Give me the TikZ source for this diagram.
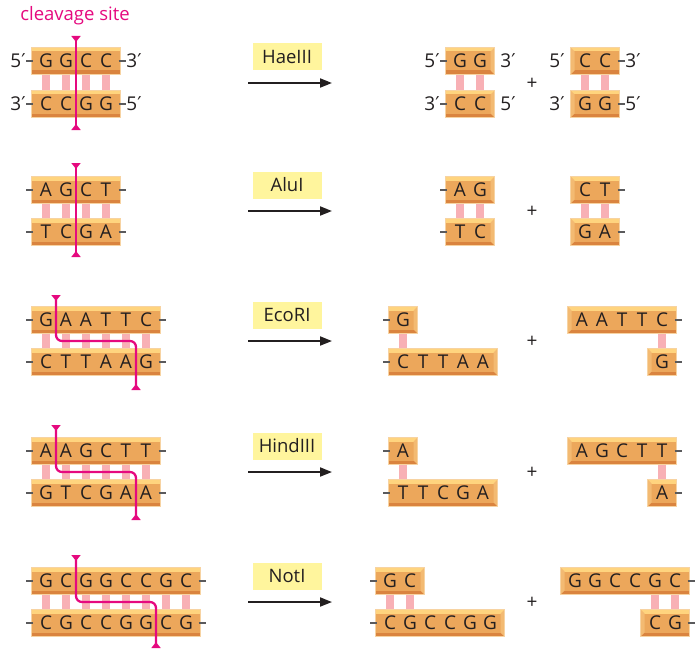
\documentclass[tikz,border=0pt]{standalone}
\usepackage{fontspec}
\setmainfont{Open Sans}
\newfontfamily\primefont{DejaVu Sans}
\usetikzlibrary{arrows.meta}
\definecolor{BarMid}{HTML}{ECA75B}
\definecolor{BarTop}{HTML}{FFD47E}
\definecolor{BarBot}{HTML}{DA843F}
\definecolor{BarSide}{HTML}{F3BA72}
\definecolor{BarRim}{HTML}{F7D3A2}
\definecolor{PairPink}{HTML}{F8B0B5}
\definecolor{CutPink}{HTML}{E5097F}
\definecolor{LabelYellow}{HTML}{FFF59D}
\definecolor{Ink}{HTML}{231F20}
\definecolor{TickGrey}{HTML}{5A5A5C}

% stripes of a strand bar, with a bevelled end where it was cut (l or r)
\newcommand{\barpaint}[1]{%
  \fill[BarTop] (path picture bounding box.north west) rectangle ([yshift=-4pt]path picture bounding box.north east);
  \fill[BarBot] ([yshift=4pt]path picture bounding box.south west) rectangle (path picture bounding box.south east);
  \if#1r\fill[BarSide] (path picture bounding box.north east) -- (path picture bounding box.south east)
    -- ([shift={(-4pt,4pt)}]path picture bounding box.south east) -- ([shift={(-4pt,-4pt)}]path picture bounding box.north east) -- cycle;\fi
  \if#1l\fill[BarSide] (path picture bounding box.north west) -- (path picture bounding box.south west)
    -- ([shift={(4pt,4pt)}]path picture bounding box.south west) -- ([shift={(4pt,-4pt)}]path picture bounding box.north west) -- cycle;\fi
}
% [bevel]{name}{x of first base}{y}{number of bases}{bases}
\newcommand{\dnastrand}[6][n]{%
  \node[bar=#1,minimum width={(#5-1)*20pt+29pt}] (#2) at ({#3+(#5-1)*10},#4) {};
  \foreach \b [count=\i] in {#6} \node[base] (#2\i) at ({#3+20*(\i-1)},#4) {\b};
}
\newcommand{\primed}[1]{#1{\primefont ′}}

\begin{document}
\begin{tikzpicture}[x=1pt,y=-1pt,
  bar/.style={rectangle,inner sep=0pt,minimum height=27pt,fill=BarMid,draw=BarRim,line width=.4pt,
    path picture={\barpaint{#1}}},
  bar/.default=n,
  base/.style={inner sep=0pt,minimum height=27pt,minimum width=12pt,text=Ink,font=\fontsize{19}{21}\selectfont},
  prime/.style={inner sep=0pt,text=Ink,font=\fontsize{19}{21}\selectfont},
  rung/.style={PairPink,line width=8pt},
  tick/.style={TickGrey,line width=1.3pt},
  cut/.style={CutPink,line width=2.3pt,rounded corners=6pt,
    {Triangle[reversed,length=6pt,width=9pt]}-{Triangle[reversed,length=6pt,width=9pt]}},
  enzyme/.style={fill=LabelYellow,minimum width=69pt,minimum height=27pt,inner sep=0pt,text=Ink,
    font=\fontsize{18.5}{21}\selectfont},
  react/.style={Ink,line width=1.8pt,-{Triangle[length=12pt,width=9pt]}},
  plus/.style={text=Ink,font=\fontsize{19}{21}\selectfont}]
\useasboundingbox (0,0) rectangle (695,650);

\node[text=CutPink,font=\fontsize{18.5}{21}\selectfont] (site) at (75,16) {cleavage site};

% HaeIII
\dnastrand{haeT}{46}{61}{4}{G,G,C,C}
\dnastrand{haeB}{46}{104}{4}{C,C,G,G}
\dnastrand[r]{haeLT}{460}{61}{2}{G,G}
\dnastrand[r]{haeLB}{460}{104}{2}{C,C}
\dnastrand[l]{haeRT}{585}{61}{2}{C,C}
\dnastrand[l]{haeRB}{585}{104}{2}{G,G}
% AluI
\dnastrand{aluT}{46}{190}{4}{A,G,C,T}
\dnastrand{aluB}{46}{232}{4}{T,C,G,A}
\dnastrand[r]{aluLT}{460}{190}{2}{A,G}
\dnastrand[r]{aluLB}{460}{232}{2}{T,C}
\dnastrand[l]{aluRT}{585}{190}{2}{C,T}
\dnastrand[l]{aluRB}{585}{232}{2}{G,A}
% EcoRI
\dnastrand{ecoT}{46}{320}{6}{G,A,A,T,T,C}
\dnastrand{ecoB}{46}{362}{6}{C,T,T,A,A,G}
\dnastrand[r]{ecoLT}{403}{320}{1}{G}
\dnastrand[r]{ecoLB}{403}{362}{5}{C,T,T,A,A}
\dnastrand[l]{ecoRT}{582}{320}{5}{A,A,T,T,C}
\dnastrand[l]{ecoRB}{662}{362}{1}{G}
% HindIII
\dnastrand{hindT}{46}{451}{6}{A,A,G,C,T,T}
\dnastrand{hindB}{46}{493}{6}{G,T,C,G,A,A}
\dnastrand[r]{hindLT}{403}{451}{1}{A}
\dnastrand[r]{hindLB}{403}{493}{5}{T,T,C,G,A}
\dnastrand[l]{hindRT}{582}{451}{5}{A,G,C,T,T}
\dnastrand[l]{hindRB}{662}{493}{1}{A}
% NotI
\dnastrand{notT}{46}{581}{8}{G,C,G,G,C,C,G,C}
\dnastrand{notB}{46}{623}{8}{C,G,C,C,G,G,C,G}
\dnastrand[r]{notLT}{390}{581}{2}{G,C}
\dnastrand[r]{notLB}{390}{623}{6}{C,G,C,C,G,G}
\dnastrand[l]{notRT}{575}{581}{6}{G,G,C,C,G,C}
\dnastrand[l]{notRB}{655}{623}{2}{C,G}

% base pairs
\foreach \r/\n in {hae/4,alu/4,eco/6,hind/6,not/8}
  \foreach \i in {1,...,\n} \draw[rung] (\r T\i) -- (\r B\i);
\foreach \r in {hae,alu}
  \foreach \i in {1,2} {\draw[rung] (\r LT\i) -- (\r LB\i); \draw[rung] (\r RT\i) -- (\r RB\i);}
\foreach \r in {eco,hind} {\draw[rung] (\r LT1) -- (\r LB1); \draw[rung] (\r RT5) -- (\r RB1);}
\draw[rung] (notLT1) -- (notLB1); \draw[rung] (notLT2) -- (notLB2);
\draw[rung] (notRT5) -- (notRB1); \draw[rung] (notRT6) -- (notRB2);

% strand ends
\foreach \r in {hae,alu,eco,hind,not} {
  \foreach \s in {T,B,LT,LB} \draw[tick] ([xshift=-5pt]\r\s.west) -- ([xshift=2pt]\r\s.west);
  \foreach \s in {T,B,RT,RB} \draw[tick] ([xshift=-2pt]\r\s.east) -- ([xshift=5pt]\r\s.east);
}
\foreach \s/\w/\e in {T/5/3,B/3/5,LT/5/3,LB/3/5,RT/5/3,RB/3/5} {
  \node[prime,anchor=east] (hae\s w) at ([xshift=-5.5pt]hae\s.west) {\primed{\w}};
  \node[prime,anchor=west] (hae\s e) at ([xshift=5.5pt]hae\s.east) {\primed{\e}};
}

% enzymes
\foreach \name/\y in {HaeIII/83,AluI/211,EcoRI/341,HindIII/472,NotI/602} {
  \node[enzyme] (\name) at (287,\y-26) {\name};
  \coordinate (\name-a) at (248,\y); \coordinate (\name-b) at (332,\y);
  \draw[react] (\name-a) -- (\name-b);
  \node[plus] (\name-p) at (532,\y+1) {+};
}

% cleavage sites
\draw[cut] (76,36) -- (76,130);
\draw[cut] (76,163) -- (76,257);
\draw[cut] (56,295) -- (56,341) -- (136,341) -- (136,390);
\draw[cut] (56,425) -- (56,472) -- (136,472) -- (136,520);
\draw[cut] (76,555) -- (76,602) -- (156,602) -- (156,648);
\end{tikzpicture}
\end{document}
